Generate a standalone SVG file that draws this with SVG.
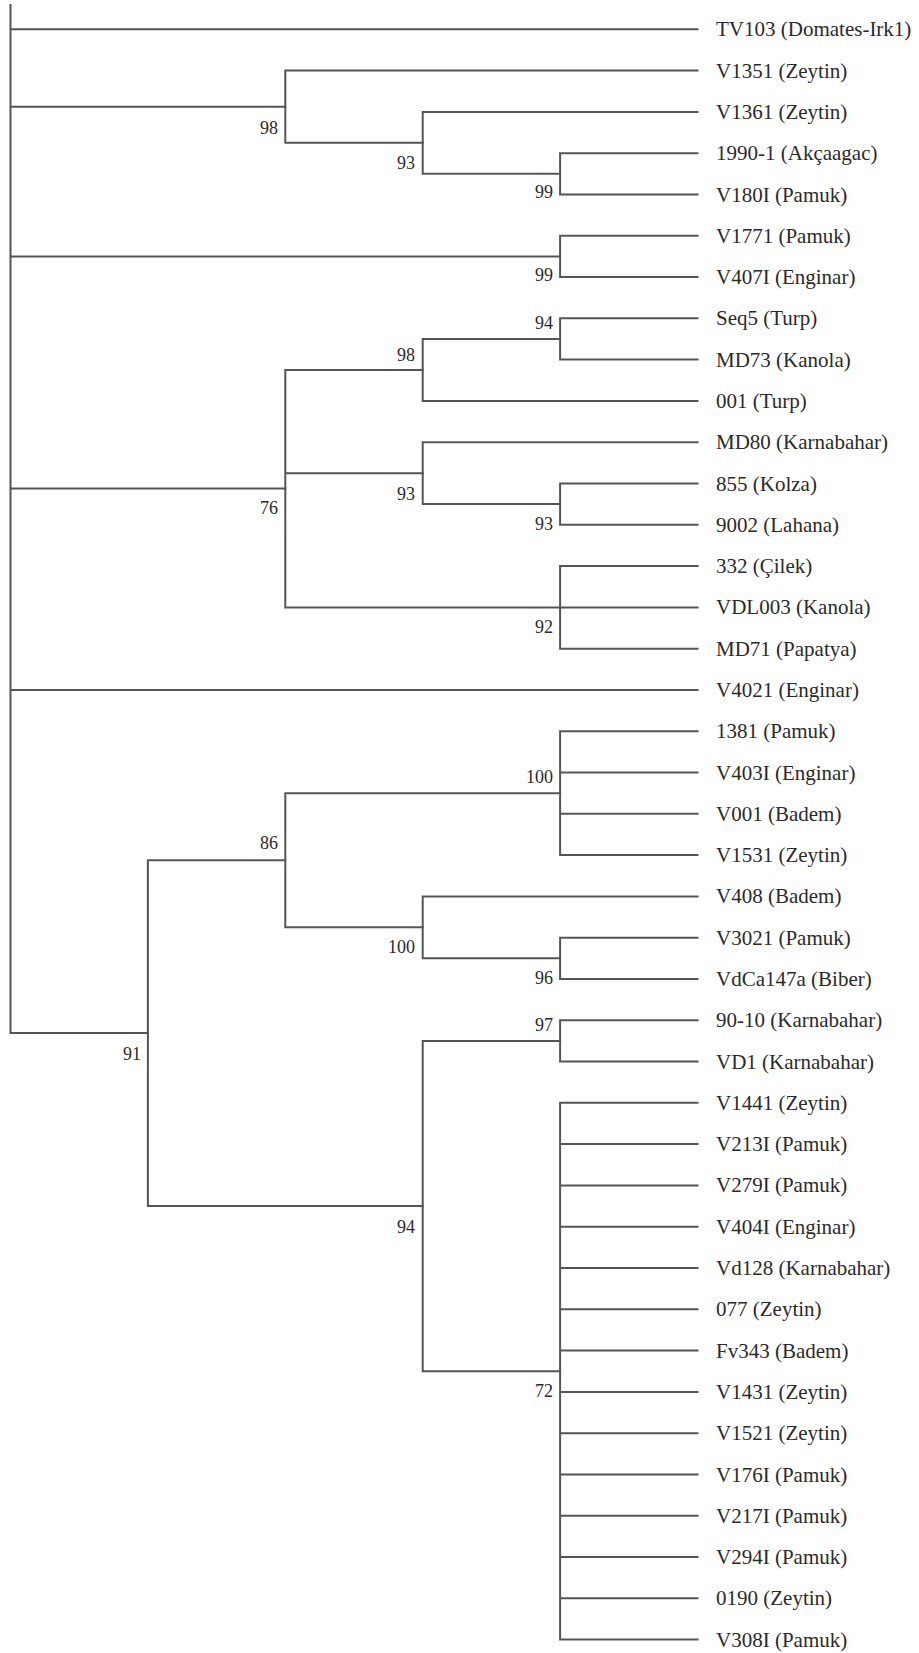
<svg xmlns="http://www.w3.org/2000/svg" width="919" height="1653" viewBox="0 0 919 1653">
<style>
.e{fill:none;stroke:#555;stroke-width:2;stroke-linecap:square}
.lf{font-family:"Liberation Serif","Times New Roman",serif;font-size:21px;fill:#2a2a2a}
.bs{font-family:"Liberation Serif","Times New Roman",serif;font-size:18px;fill:#2a2a2a;text-anchor:end}
</style>
<rect width="919" height="1653" fill="#fff"/>
<g id="connectors" class="e">
<path d="M10.5 5V1033.1M10.5 29.3H697.5M10.5 106.7H285.3M10.5 256.4H560.1M10.5 488.6H285.3M10.5 689.9H697.5M10.5 1033.1H147.9"/>
<path d="M285.3 70.6V142.8M285.3 70.6H697.5M285.3 142.8H422.7"/>
<path d="M422.7 111.9V173.8M422.7 111.9H697.5M422.7 173.8H560.1"/>
<path d="M560.1 153.2V194.5M560.1 153.2H697.5M560.1 194.5H697.5"/>
<path d="M560.1 235.8V277M560.1 235.8H697.5M560.1 277H697.5"/>
<path d="M285.3 369.9V607.4M285.3 369.9H422.7M285.3 473.2H422.7M285.3 607.4H697.5"/>
<path d="M422.7 339V400.9M422.7 339H560.1M422.7 400.9H697.5"/>
<path d="M560.1 318.3V359.6M560.1 318.3H697.5M560.1 359.6H697.5"/>
<path d="M422.7 442.2V504.1M422.7 442.2H697.5M422.7 504.1H560.1"/>
<path d="M560.1 483.5V524.8M560.1 483.5H697.5M560.1 524.8H697.5"/>
<path d="M560.1 566.1V648.7M560.1 566.1H697.5M560.1 648.7H697.5"/>
<path d="M147.9 860.3V1206.1M147.9 860.3H285.3M147.9 1206.1H422.7"/>
<path d="M285.3 793.2V927.3M285.3 793.2H560.1M285.3 927.3H422.7"/>
<path d="M560.1 731.2V855.1M560.1 731.2H697.5M560.1 772.5H697.5M560.1 813.8H697.5M560.1 855.1H697.5"/>
<path d="M422.7 896.4V958.3M422.7 896.4H697.5M422.7 958.3H560.1"/>
<path d="M560.1 937.7V979M560.1 937.7H697.5M560.1 979H697.5"/>
<path d="M422.7 1040.9V1371.2M422.7 1040.9H560.1M422.7 1371.2H560.1"/>
<path d="M560.1 1020.3V1061.6M560.1 1020.3H697.5M560.1 1061.6H697.5"/>
<path d="M560.1 1102.8V1639.6M560.1 1102.8H697.5M560.1 1144.1H697.5M560.1 1185.4H697.5M560.1 1226.7H697.5M560.1 1268H697.5M560.1 1309.3H697.5M560.1 1350.6H697.5M560.1 1391.9H697.5M560.1 1433.2H697.5M560.1 1474.5H697.5M560.1 1515.7H697.5M560.1 1557H697.5M560.1 1598.3H697.5M560.1 1639.6H697.5"/>
</g>
<g id="leaves" class="lf">
<g id="leaf-TV103"><text x="716" y="36.3">TV103 (Domates-Irk1)</text></g>
<g id="leaf-V1351"><text x="716" y="77.6">V1351 (Zeytin)</text></g>
<g id="leaf-V1361"><text x="716" y="118.9">V1361 (Zeytin)</text></g>
<g id="leaf-1990-1"><text x="716" y="160.2">1990-1 (Akçaagac)</text></g>
<g id="leaf-V180I"><text x="716" y="201.5">V180I (Pamuk)</text></g>
<g id="leaf-V1771"><text x="716" y="242.8">V1771 (Pamuk)</text></g>
<g id="leaf-V407I"><text x="716" y="284">V407I (Enginar)</text></g>
<g id="leaf-Seq5"><text x="716" y="325.3">Seq5 (Turp)</text></g>
<g id="leaf-MD73"><text x="716" y="366.6">MD73 (Kanola)</text></g>
<g id="leaf-001"><text x="716" y="407.9">001 (Turp)</text></g>
<g id="leaf-MD80"><text x="716" y="449.2">MD80 (Karnabahar)</text></g>
<g id="leaf-855"><text x="716" y="490.5">855 (Kolza)</text></g>
<g id="leaf-9002"><text x="716" y="531.8">9002 (Lahana)</text></g>
<g id="leaf-332"><text x="716" y="573.1">332 (Çilek)</text></g>
<g id="leaf-VDL003"><text x="716" y="614.4">VDL003 (Kanola)</text></g>
<g id="leaf-MD71"><text x="716" y="655.7">MD71 (Papatya)</text></g>
<g id="leaf-V4021"><text x="716" y="696.9">V4021 (Enginar)</text></g>
<g id="leaf-1381"><text x="716" y="738.2">1381 (Pamuk)</text></g>
<g id="leaf-V403I"><text x="716" y="779.5">V403I (Enginar)</text></g>
<g id="leaf-V001"><text x="716" y="820.8">V001 (Badem)</text></g>
<g id="leaf-V1531"><text x="716" y="862.1">V1531 (Zeytin)</text></g>
<g id="leaf-V408"><text x="716" y="903.4">V408 (Badem)</text></g>
<g id="leaf-V3021"><text x="716" y="944.7">V3021 (Pamuk)</text></g>
<g id="leaf-VdCa147a"><text x="716" y="986">VdCa147a (Biber)</text></g>
<g id="leaf-90-10"><text x="716" y="1027.3">90-10 (Karnabahar)</text></g>
<g id="leaf-VD1"><text x="716" y="1068.6">VD1 (Karnabahar)</text></g>
<g id="leaf-V1441"><text x="716" y="1109.8">V1441 (Zeytin)</text></g>
<g id="leaf-V213I"><text x="716" y="1151.1">V213I (Pamuk)</text></g>
<g id="leaf-V279I"><text x="716" y="1192.4">V279I (Pamuk)</text></g>
<g id="leaf-V404I"><text x="716" y="1233.7">V404I (Enginar)</text></g>
<g id="leaf-Vd128"><text x="716" y="1275">Vd128 (Karnabahar)</text></g>
<g id="leaf-077"><text x="716" y="1316.3">077 (Zeytin)</text></g>
<g id="leaf-Fv343"><text x="716" y="1357.6">Fv343 (Badem)</text></g>
<g id="leaf-V1431"><text x="716" y="1398.9">V1431 (Zeytin)</text></g>
<g id="leaf-V1521"><text x="716" y="1440.2">V1521 (Zeytin)</text></g>
<g id="leaf-V176I"><text x="716" y="1481.5">V176I (Pamuk)</text></g>
<g id="leaf-V217I"><text x="716" y="1522.7">V217I (Pamuk)</text></g>
<g id="leaf-V294I"><text x="716" y="1564">V294I (Pamuk)</text></g>
<g id="leaf-0190"><text x="716" y="1605.3">0190 (Zeytin)</text></g>
<g id="leaf-V308I"><text x="716" y="1646.6">V308I (Pamuk)</text></g>
</g>
<g id="internal-nodes" class="bs">
<g id="node-98a"><text x="278" y="134">98</text></g>
<g id="node-93a"><text x="415" y="169">93</text></g>
<g id="node-99a"><text x="553" y="198">99</text></g>
<g id="node-99b"><text x="553" y="281">99</text></g>
<g id="node-94a"><text x="553" y="329">94</text></g>
<g id="node-98b"><text x="415" y="361">98</text></g>
<g id="node-93b"><text x="415" y="500">93</text></g>
<g id="node-93c"><text x="553" y="530">93</text></g>
<g id="node-76"><text x="278" y="514">76</text></g>
<g id="node-92"><text x="553" y="633">92</text></g>
<g id="node-100a"><text x="553" y="783">100</text></g>
<g id="node-86"><text x="278" y="849">86</text></g>
<g id="node-100b"><text x="415" y="953">100</text></g>
<g id="node-96"><text x="553" y="984">96</text></g>
<g id="node-97"><text x="553" y="1031">97</text></g>
<g id="node-91"><text x="141" y="1060">91</text></g>
<g id="node-94b"><text x="415" y="1233">94</text></g>
<g id="node-72"><text x="553" y="1397">72</text></g>
</g>
</svg>
